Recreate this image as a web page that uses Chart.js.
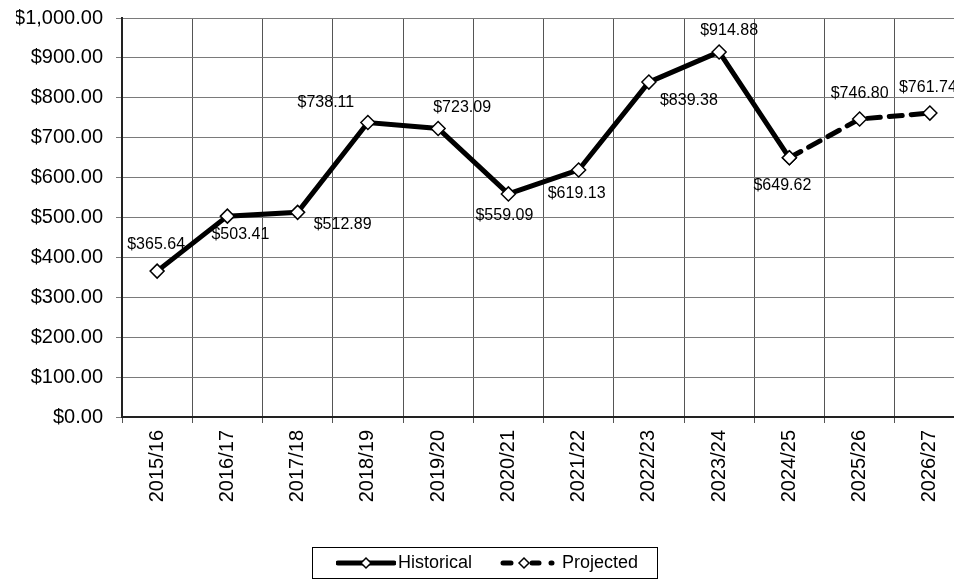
<!DOCTYPE html>
<html>
<head>
<meta charset="utf-8">
<script src="https://cdn.jsdelivr.net/npm/chart.js@4.4.1/dist/chart.umd.min.js"></script>
<style>
  body { margin: 0; background: #fff; overflow: hidden; }
  #wrap { width: 965px; height: 579px; }
</style>
</head>
<body>
<!-- canvas a bit wider than the window: the last column is cut off like the original -->
<div id="wrap"><canvas id="priceChart" width="965" height="579"></canvas></div>
<script>
let years = [
  "2015/16", "2016/17", "2017/18", "2018/19", "2019/20", "2020/21",
  "2021/22", "2022/23", "2023/24", "2024/25", "2025/26", "2026/27",
];
let historical = [365.64, 503.41, 512.89, 738.11, 723.09, 559.09, 619.13, 839.38, 914.88, 649.62, null, null];
let projected = [null, null, null, null, null, null, null, null, null, 649.62, 746.8, 761.74];
let yTicks = [0, 100, 200, 300, 400, 500, 600, 700, 800, 900, 1000];

let fontName = "'Liberation Sans', Arial, sans-serif";

function money(v) {
  return "$" + v.toLocaleString("en-US", { minimumFractionDigits: 2, maximumFractionDigits: 2 });
}

// little legend symbols: thick line with a diamond in it
function legendSymbol(dashed) {
  let c = document.createElement("canvas");
  c.width = 60;
  c.height = 14;
  let ctx = c.getContext("2d");
  ctx.strokeStyle = "#000";
  ctx.lineWidth = 5;
  ctx.lineCap = "round";
  ctx.beginPath();
  if (dashed) {
    ctx.moveTo(3, 7); ctx.lineTo(11, 7);
    ctx.moveTo(32, 7); ctx.lineTo(39, 7);
    ctx.moveTo(51, 7); ctx.lineTo(52, 7);
  } else {
    ctx.moveTo(2, 7); ctx.lineTo(58, 7);
  }
  ctx.stroke();
  let cx = dashed ? 24 : 30;
  ctx.beginPath();
  ctx.moveTo(cx - 5, 7); ctx.lineTo(cx, 2); ctx.lineTo(cx + 5, 7); ctx.lineTo(cx, 12);
  ctx.closePath();
  ctx.fillStyle = "#fff";
  ctx.fill();
  ctx.lineWidth = 1.5;
  ctx.stroke();
  return c;
}

// where each value label sits relative to its point
let labelOffsets = [
  [-1, -27], [13, 18], [45, 12], [-42, -20], [24, -21], [-4, 22],
  [-2, 24], [40, 19], [10, -21], [-7, 28], [0, -25], [-2, -25],
];

let valueLabels = {
  id: "valueLabels",
  afterDatasetsDraw: function (chart) {
    let ctx = chart.ctx;
    ctx.save();
    ctx.font = "16px " + fontName;
    ctx.fillStyle = "#000";
    ctx.textAlign = "center";
    ctx.textBaseline = "middle";
    chart.data.datasets.forEach(function (ds, di) {
      let meta = chart.getDatasetMeta(di);
      meta.data.forEach(function (pt, i) {
        if (ds.data[i] === null) return;
        if (di === 1 && historical[i] !== null) return;
        let off = labelOffsets[i];
        ctx.fillText(money(ds.data[i]), pt.x + off[0], pt.y + off[1]);
      });
    });
    ctx.restore();
  },
};

let legendFrame = {
  id: "legendFrame",
  afterDraw: function (chart) {
    let boxes = chart.legend.legendHitBoxes;
    if (!boxes || !boxes.length) return;
    let first = boxes[0];
    let last = boxes[boxes.length - 1];
    let midY = first.top + first.height / 2;
    let ctx = chart.ctx;
    ctx.save();
    ctx.strokeStyle = "#000";
    ctx.lineWidth = 1;
    ctx.strokeRect(Math.round(first.left - 31) + 0.5, Math.round(midY - 16) + 0.5,
      Math.round(last.left + last.width + 19 - (first.left - 31)), 31);
    ctx.restore();
  },
};

let chartCtx = document.getElementById("priceChart").getContext("2d");
let priceChart = new Chart(chartCtx, {
  type: "line",
  data: {
    labels: years,
    datasets: [
      {
        label: "Historical",
        data: historical,
        borderColor: "#000",
        borderWidth: 5,
        pointStyle: "rectRot",
        pointRadius: 7,
        pointBackgroundColor: "#fff",
        pointBorderColor: "#000",
        pointBorderWidth: 1.5,
        tension: 0,
        spanGaps: false,
      },
      {
        label: "Projected",
        data: projected,
        borderColor: "#000",
        borderWidth: 5,
        borderDash: [13, 9],
        borderCapStyle: "round",
        pointStyle: "rectRot",
        pointRadius: 7,
        pointBackgroundColor: "#fff",
        pointBorderColor: "#000",
        pointBorderWidth: 1.5,
        tension: 0,
        spanGaps: false,
      },
    ],
  },
  options: {
    responsive: false,
    animation: false,
    layout: { autoPadding: false, padding: { top: 18, left: 16, right: 0, bottom: -3 } },
    plugins: {
      tooltip: { enabled: false },
      legend: {
        position: "bottom",
        align: "center",
        labels: {
          usePointStyle: true,
          pointStyleWidth: 46,
          padding: 35,
          color: "#000",
          font: { family: fontName, size: 18 },
          generateLabels: function (chart) {
            return chart.data.datasets.map(function (ds, i) {
              return {
                text: ds.label,
                pointStyle: legendSymbol(i === 1),
                fillStyle: "#fff",
                strokeStyle: "#000",
                lineWidth: 0,
                hidden: false,
                datasetIndex: i,
                fontColor: "#000",
              };
            });
          },
        },
      },
    },
    scales: {
      x: {
        offset: true,
        grid: { offset: true, color: "#555", lineWidth: 1, tickLength: 6, drawTicks: true },
        border: { color: "#222", width: 2 },
        ticks: {
          autoSkip: false,
          maxRotation: 90,
          minRotation: 90,
          padding: 7,
          color: "#000",
          font: { family: fontName, size: 20 },
        },
        afterFit: function (scale) {
          scale.height = 102;
          scale.paddingLeft = 0;
          scale.paddingRight = 0;
        },
      },
      y: {
        min: 0,
        max: 1000,
        afterBuildTicks: function (scale) {
          scale.ticks = yTicks.map(function (v) { return { value: v }; });
        },
        grid: { color: "#7a7a7a", lineWidth: 1, tickLength: 6 },
        border: { color: "#222", width: 2 },
        ticks: {
          padding: 13,
          color: "#000",
          font: { family: fontName, size: 20 },
          callback: function (v) { return money(v); },
        },
        afterFit: function (scale) {
          scale.width = 106;
          scale.paddingTop = 0;
          scale.paddingBottom = 0;
        },
      },
    },
  },
  plugins: [valueLabels, legendFrame],
});
</script>
</body>
</html>
